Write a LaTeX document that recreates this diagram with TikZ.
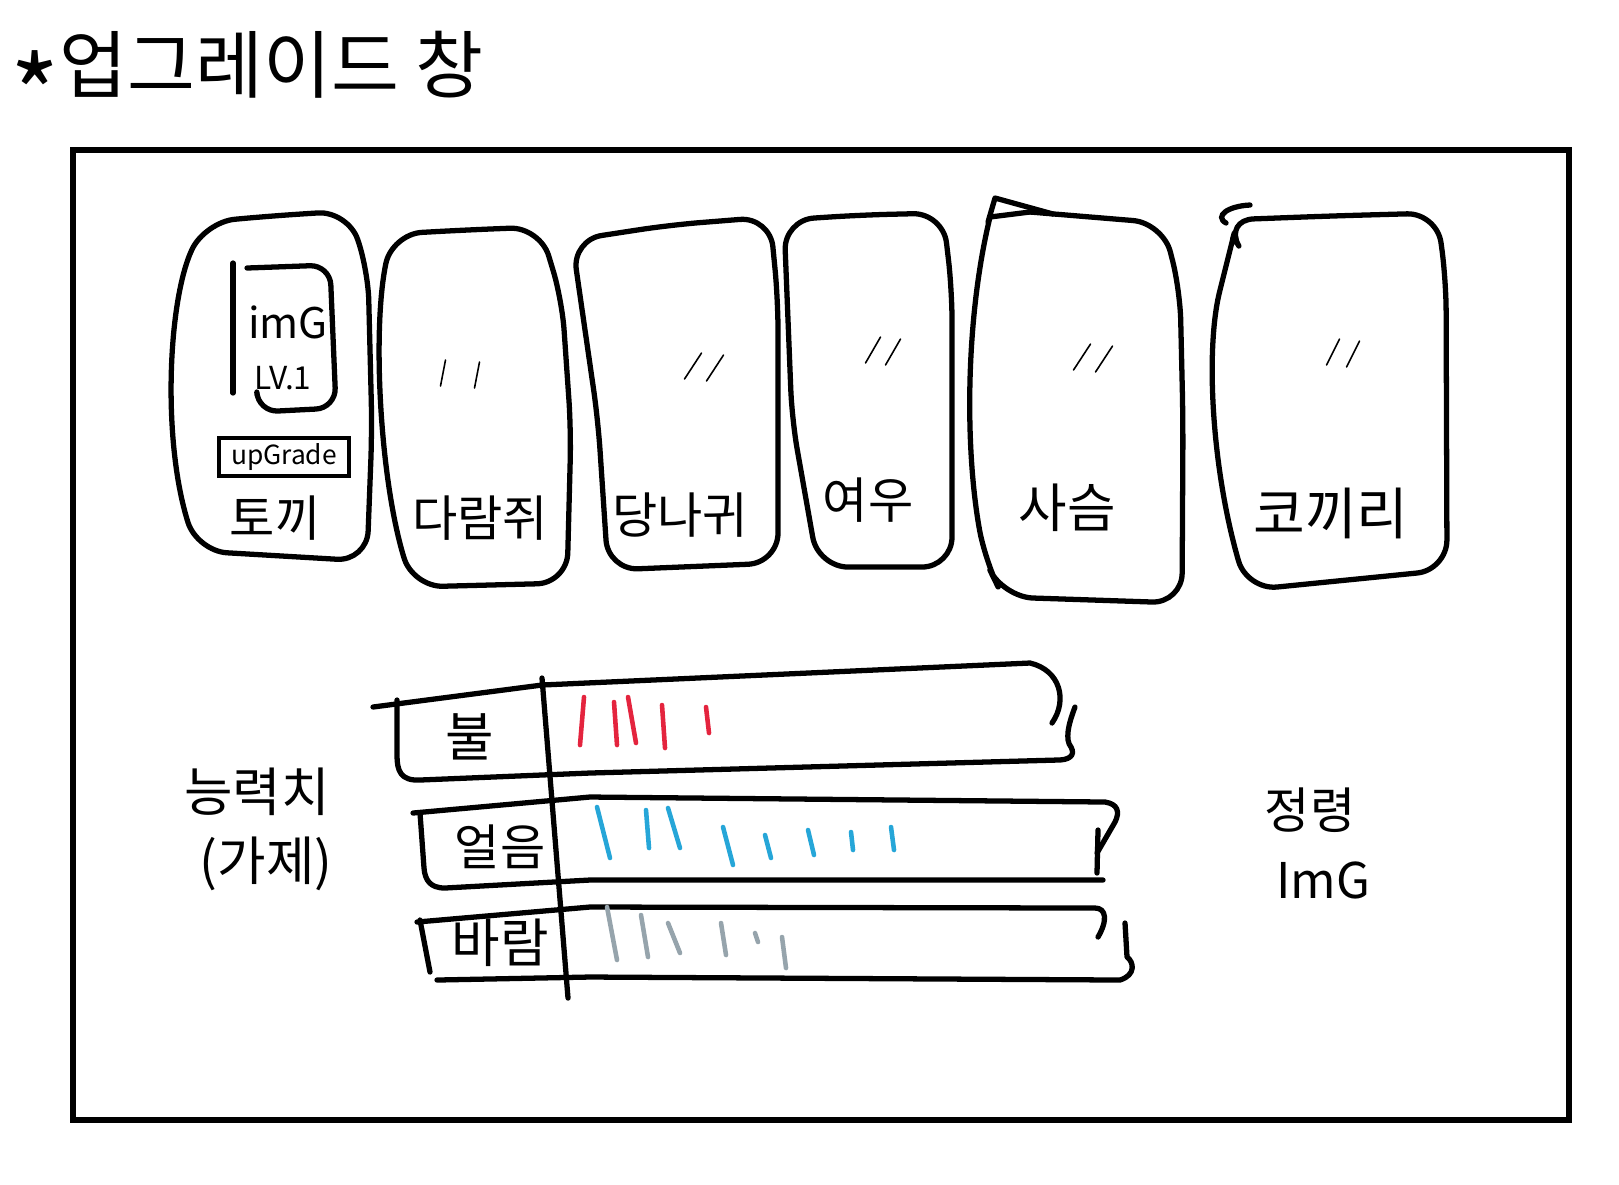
\documentclass[tikz,border=0pt]{standalone}
\usepackage{fontspec}
\setmainfont{Noto Sans CJK KR}
\definecolor{firered}{RGB}{228,36,62}
\definecolor{iceblue}{RGB}{38,166,216}
\definecolor{windgray}{RGB}{150,164,172}

\begin{document}
\begin{tikzpicture}[x=0.1mm, y=-0.1mm,
    card/.style={line width=1.5pt, line cap=round, line join=round, rounded corners=3mm},
    bar/.style={line width=1.5pt, line cap=round, line join=round},
    ditto/.style={line width=0.45pt, line cap=round},
    tally/.style={line width=1.3pt, line cap=round},
    cardlabel/.style={font=\fontsize{14}{14}\selectfont, inner sep=0pt},
    barlabel/.style={font=\fontsize{15}{15}\selectfont, inner sep=0pt}]

    \useasboundingbox (0,0) rectangle (1619,1184);

    % Title
    \node[font=\fontsize{21}{21}\selectfont, inner sep=0pt, anchor=base west] (title) at (10,92)
        {\raisebox{-12pt}{\fontsize{30}{30}\selectfont *}업그레이드 창};

    % Window frame
    \draw[line width=1.7pt] (73,150) rectangle (1569,1120);

    % Card 1 (the only one filled in)
    % Draw card outline
    \draw[card] (270,216) -- (348,211) -- (368,270) -- (372,430) -- (367,561) -- (197,551)
        .. controls (162,440) and (168,300) .. (205,222) -- cycle;
    % Draw image box, open on the left, with a loose line beside it
    \draw[line width=1.5pt, line cap=round] (233,263) -- (233,393);
    \draw[card, rounded corners=2mm] (247,268) -- (330,265) -- (336,408) -- (258,412) -- (257,395);
    \node[font=\fontsize{12}{12}\selectfont, inner sep=0pt] (img_rabbit) at (288,322) {imG};
    \node[font=\fontsize{9}{9}\selectfont, inner sep=0pt] (lv_rabbit) at (283,378) {LV.1};
    % Draw upgrade button
    \node[draw, line width=1.2pt, rectangle, minimum width=13mm, minimum height=3.8mm, inner sep=0pt,
        font=\fontsize{7.5}{7.5}\selectfont] (btn_upgrade) at (284,457) {upGrade};
    \node[cardlabel] (label_rabbit) at (275,518) {토끼};

    % Card 2
    \draw[card] (465,230) -- (540,227) -- (562,300) -- (571,430) -- (567,583) -- (413,587)
        .. controls (380,480) and (372,330) .. (392,234) -- cycle;
    \node[cardlabel] (label_squirrel) at (480,518) {다람쥐};

    % Card 3
    \draw[card] (670,225) -- (770,217) -- (778,300) -- (778,563) -- (608,570) -- (598,420) -- (572,240) -- cycle;
    \node[cardlabel] (label_donkey) at (680,515) {당나귀};

    % Card 4
    \draw[card] (860,215) -- (943,213) -- (952,290) -- (952,567) -- (818,567) -- (792,420) -- (784,220) -- cycle;
    \node[cardlabel] (label_fox) at (868,500) {여우};

    % Card 5 (with a small fold at the top left)
    \draw[card] (1030,212) -- (1163,223) -- (1180,290) -- (1183,420) -- (1182,603) -- (1003,597) -- (985,560)
        .. controls (965,450) and (965,320) .. (990,217);
    \draw[line width=1.5pt, line cap=round, line join=round] (988,222) -- (995,198) -- (1053,214);
    \draw[line width=1.5pt, line cap=round] (990,217) -- (1030,212);
    \node[cardlabel, font=\fontsize{15}{15}\selectfont] (label_deer) at (1067,508) {사슴};

    % Card 6 (with a small hook at the top left)
    \draw[card] (1330,216) -- (1437,213) -- (1446,280) -- (1447,570) -- (1247,590)
        .. controls (1212,470) and (1205,350) .. (1227,262)
        .. controls (1231,246) and (1232,234) .. (1224,220) -- cycle;
    \draw[line width=1.5pt, line cap=round] (1226,223) .. controls (1214,216) and (1228,206) .. (1250,205);
    \node[cardlabel, font=\fontsize{16}{16}\selectfont] (label_elephant) at (1331,513) {코끼리};

    % Ditto marks on cards 2 to 6
    \foreach \cx/\cy/\s/\w in {460/373/5/17, 704/366/17/11, 883/350/15/10, 1093/357/17/11, 1343/352/13/10}
        \draw[ditto] (\cx-\w+\s/2, \cy-13) -- (\cx-\w-\s/2, \cy+13)
                     (\cx+\w+\s/2, \cy-11) -- (\cx+\w-\s/2, \cy+15);

    % Stat bars
    % Row fire
    \draw[bar] (373,707) -- (542,685) -- (1030,663) .. controls (1060,670) and (1068,700) .. (1052,723);
    \draw[bar] (1075,707) .. controls (1068,725) and (1065,740) .. (1071,747)
        .. controls (1076,756) and (1068,760) .. (1058,760) -- (590,773) -- (420,780)
        .. controls (400,781) and (397,770) .. (397,755) -- (397,700);
    \node[barlabel] (label_fire) at (470,737) {불};
    % Row ice
    \draw[bar] (413,813) -- (590,797) -- (1105,802) .. controls (1118,804) and (1120,812) .. (1115,822) -- (1097,853);
    \draw[bar] (1098,830) -- (1097,873);
    \draw[bar] (1103,880) -- (590,880) -- (445,888) .. controls (430,888) and (425,880) .. (424,868) -- (420,813);
    \node[barlabel, font=\fontsize{14}{14}\selectfont] (label_ice) at (500,847) {얼음};
    % Row wind
    \draw[bar] (417,922) -- (590,907) -- (1095,908) .. controls (1106,908) and (1108,920) .. (1098,937);
    \draw[bar] (1125,923) -- (1127,957) .. controls (1134,962) and (1136,975) .. (1120,980) -- (590,977) -- (437,980);
    \draw[bar] (420,920) -- (430,972);
    \node[barlabel] (label_wind) at (500,943) {바람};
    % Divider between names and values
    \draw[line width=1.5pt, line cap=round] (542,678) -- (568,998);

    % Tally marks for each row
    \foreach \xa/\ya/\xb/\yb in {584/697/580/745, 614/702/617/745, 628/697/636/743, 662/705/665/748, 706/707/709/733}
        \draw[tally, firered] (\xa,\ya) -- (\xb,\yb);
    \foreach \xa/\ya/\xb/\yb in {597/807/610/858, 646/810/649/848, 668/808/680/848, 723/827/733/865,
                                 765/835/771/858, 808/830/814/855, 851/832/853/850, 891/827/894/850}
        \draw[tally, iceblue] (\xa,\ya) -- (\xb,\yb);
    \foreach \xa/\ya/\xb/\yb in {607/907/617/960, 641/915/648/957, 668/923/680/953, 721/923/726/955,
                                 755/933/758/942, 782/937/786/968}
        \draw[tally, windgray] (\xa,\ya) -- (\xb,\yb);

    % Side labels
    \node[font=\fontsize{15}{15}\selectfont, inner sep=0pt] (label_stats) at (257,792) {능력치};
    \node[font=\fontsize{15}{15}\selectfont, inner sep=0pt] (label_tentative) at (266,864) {(가제)};
    \node[font=\fontsize{14}{14}\selectfont, inner sep=0pt] (label_spirit) at (1310,810) {정령};
    \node[font=\fontsize{14}{14}\selectfont, inner sep=0pt] (label_spirit_img) at (1323,880) {ImG};

\end{tikzpicture}
\end{document}
